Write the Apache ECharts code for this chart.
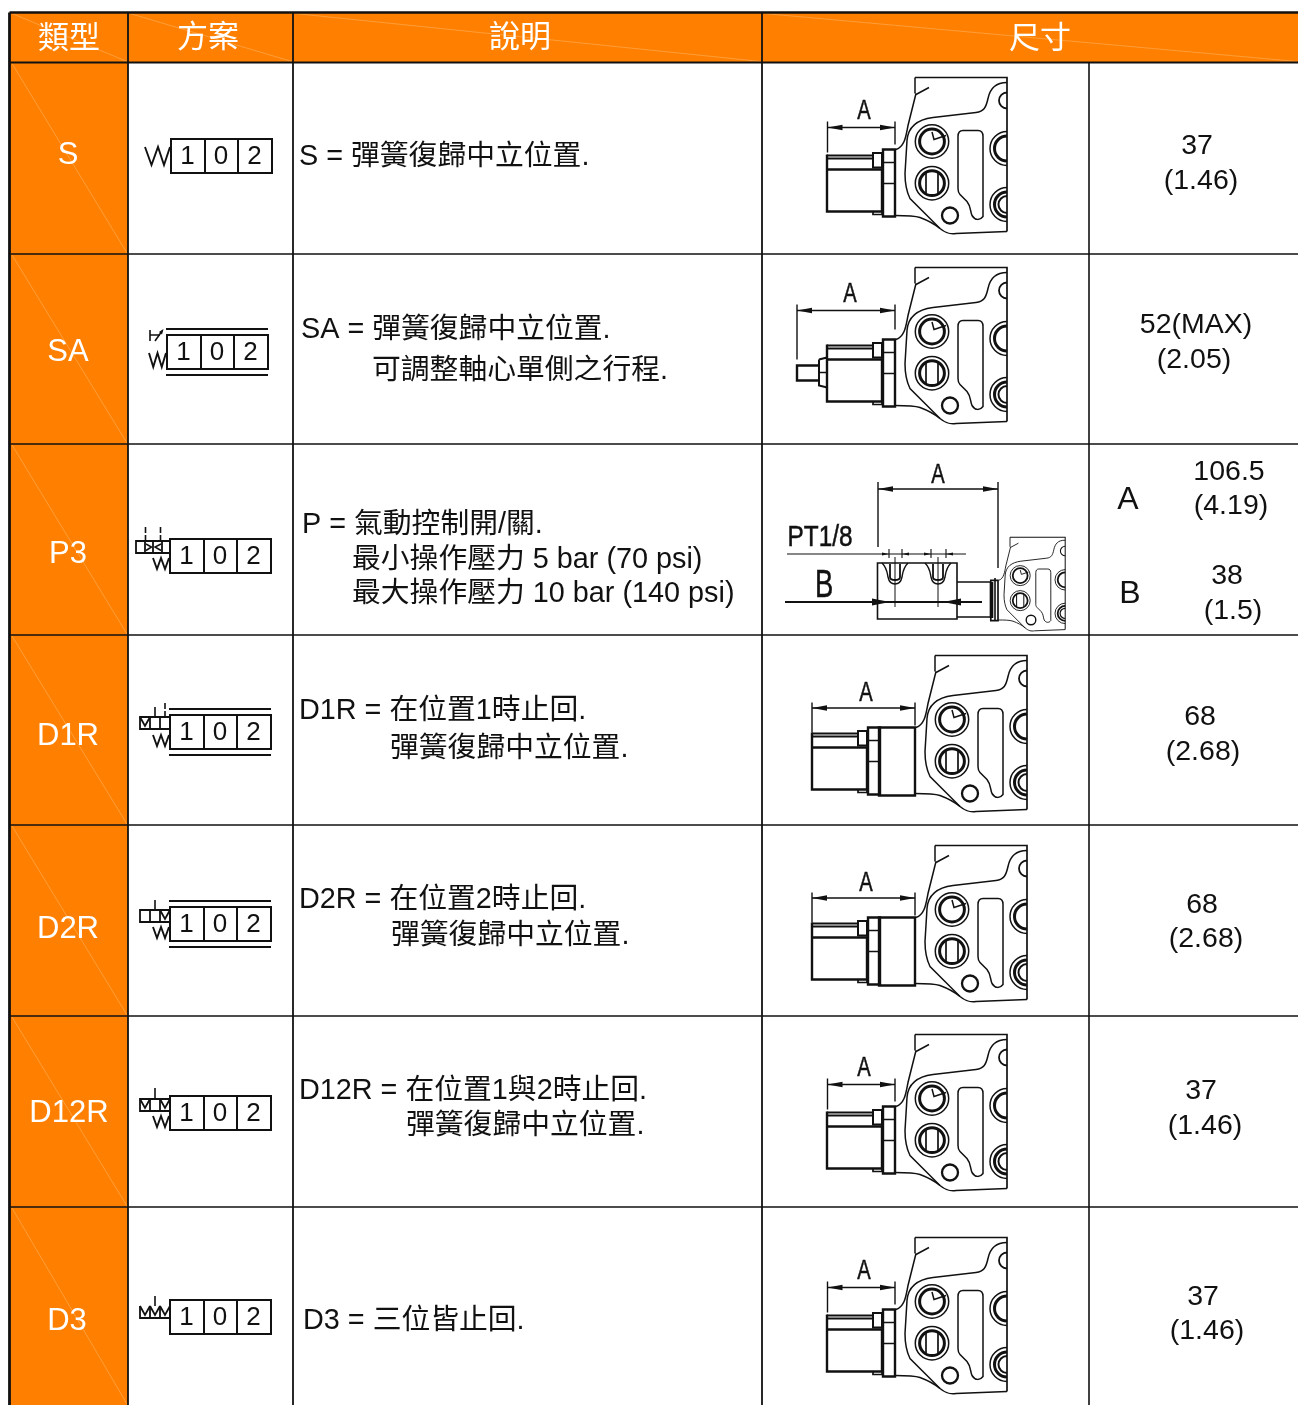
<!DOCTYPE html>
<html>
<head>
<meta charset="utf-8">
<title>類型 方案</title>
<script src="https://cdn.jsdelivr.net/npm/echarts@6/dist/echarts.min.js"></script>
<style>
  html, body { margin: 0; padding: 0; background: #fff; }
  #chart { width: 1298px; height: 1405px; }
</style>
</head>
<body>
<div id="chart"></div>
<script>
// table content
var headers = ['類型', '方案', '說明', '尺寸'];
var types = ['S', 'SA', 'P3', 'D1R', 'D2R', 'D12R', 'D3'];
var digits = ['1', '0', '2'];
var descriptions = [
  'S = 彈簧復歸中立位置.',
  'SA = 彈簧復歸中立位置.', '可調整軸心單側之行程.',
  'P = 氣動控制開/關.', '最小操作壓力 5 bar (70 psi)', '最大操作壓力 10 bar (140 psi)',
  'D1R = 在位置1時止回.', '彈簧復歸中立位置.',
  'D2R = 在位置2時止回.', '彈簧復歸中立位置.',
  'D12R = 在位置1與2時止回.', '彈簧復歸中立位置.',
  'D3 = 三位皆止回.'
];
var sizes = ['37', '(1.46)', '52(MAX)', '(2.05)', 'A', '106.5', '(4.19)', 'B', '38', '(1.5)',
  '68', '(2.68)', '68', '(2.68)', '37', '(1.46)', '37', '(1.46)'];

// layout
var colEdges = [10, 128, 293, 762, 1089, 1298];
var rowEdges = [12.5, 62.5, 254, 444, 635, 825, 1016, 1207, 1405];
var headerCenters = [[69, 39], [208, 38.5], [520, 38.5], [1040, 39]];
var typeCenters = [[68, 155], [68, 352], [68, 554], [68, 736], [68, 929], [69, 1113], [67, 1321]];
var descPos = [[299, 157.5], [301, 330.5], [372, 371.5], [302, 525.5], [352, 560.5], [352, 594],
  [299, 711.5], [390, 749.5], [299, 900.5], [391, 936.5], [299, 1091.5], [406, 1126.5], [303, 1321.5]];
var sizePos = [[1197, 146.5], [1201, 181], [1196, 325.5], [1194, 360.5], [1128, 500], [1229, 472.5], [1231, 506.5],
  [1130, 594], [1227, 576.5], [1233, 611.5], [1200, 717.5], [1203, 752.5], [1202, 905.5], [1206, 939.5],
  [1201, 1091.5], [1205, 1126.5], [1203, 1297.5], [1207, 1331.5]];
var boxPos = [[171, 139], [167, 335], [170, 539], [170, 715], [170, 907], [170, 1096], [170, 1300]];
var blockPos = [[790, 60.5, 1], [790, 250.5, 1], [935, 527, 0.6], [810, 638.5, 1], [810, 828.5, 1], [790, 1017.5, 1], [790, 1220.5, 1]];

var ORANGE = '#ff8000';
var INK = '#111';
var FONT = '"Liberation Sans", "Noto Sans CJK TC", sans-serif';

function line(d, w) {
  return { type: 'path', shape: { pathData: d }, style: { stroke: INK, fill: 'none', lineWidth: w || 1.5 }, silent: true };
}
function solid(d) {
  return { type: 'path', shape: { pathData: d }, style: { fill: INK, stroke: null }, silent: true };
}
function label(s, x, y, size, opt) {
  opt = opt || {};
  return {
    type: 'text', x: x, y: y, scaleX: opt.narrow || 1, silent: true,
    style: {
      text: s, font: size + 'px ' + FONT, fill: opt.color || '#111',
      stroke: opt.narrow ? '#111' : null, lineWidth: opt.narrow ? 0.5 : 0,
      textAlign: opt.align || 'center', textVerticalAlign: 'middle'
    }
  };
}
function circle(cx, cy, r) {
  return 'M' + (cx - r) + ' ' + cy + 'A' + r + ' ' + r + ' 0 1 0 ' + (cx + r) + ' ' + cy + 'A' + r + ' ' + r + ' 0 1 0 ' + (cx - r) + ' ' + cy + 'Z';
}
function leftHalf(cx, cy, r) {
  return 'M' + cx + ' ' + (cy - r) + 'A' + r + ' ' + r + ' 0 0 0 ' + cx + ' ' + (cy + r);
}
function arrowR(x, y, l, h) { return 'M' + x + ' ' + y + 'L' + (x - l) + ' ' + (y - h) + 'L' + (x - l) + ' ' + (y + h) + 'Z'; }
function arrowL(x, y, l, h) { return 'M' + x + ' ' + y + 'L' + (x + l) + ' ' + (y - h) + 'L' + (x + l) + ' ' + (y + h) + 'Z'; }

// dimension line with two extension lines and the narrow drawing letter
function dimension(x1, x2, y, top, leftEnd, rightEnd, letter, lx, ly) {
  return [
    line('M' + x1 + ' ' + top + 'L' + x1 + ' ' + leftEnd + 'M' + x2 + ' ' + top + 'L' + x2 + ' ' + rightEnd, 1.4),
    line('M' + x1 + ' ' + y + 'L' + x2 + ' ' + y, 1.3),
    solid(arrowL(x1, y, 15, 2.8)),
    solid(arrowR(x2, y, 15, 2.8)),
    label(letter, lx, ly, 28, { narrow: 0.72 })
  ];
}

// valve block, local coordinates, S row as the reference
function block() {
  var thin = 1.5;
  return [
    line('M125 17 L217 17 L217 171', 1.7),
    line('M125 17 L125 33 M126 34 L139 27', thin),
    line('M126 33 L118 65 C116 75 115 86 106 89', thin),
    line('M217 22 C205 22 200 28 198 38 C196 47 194 51 186 52 L143 57 C128 59 118 66 117 80 L115 113 C115 124 117 132 120 138 L150 168 C156 173 160 174 166 173 L217 171', thin),
    line('M105 155 C116 155 124 155 130 157 C138 160 144 163 150 168', thin),
    line('M168 76 C168 72 170 70 173 70 L188 70 C191 70 193 72 193 76 L193 156 C190 160 185 160 182 155 C180 150 181 146 177 141 L170 134 C168 132 168 130 168 128 Z', thin),
    // ports
    line(circle(142, 81, 16.7), thin),
    line(circle(142, 81, 12.4), 3),
    line('M142 71.5 L144 79 L156 75', thin),
    line(circle(142, 122.7, 16.7), thin),
    line(circle(142, 122.7, 12.4), 3),
    line('M136 112 L136 133 M148 112 L148 133', 1.7),
    line(circle(160, 155, 8), 2.3),
    line(leftHalf(217, 40, 8), 1.8),
    line(leftHalf(217, 88, 17), thin),
    line(leftHalf(217, 88, 12.5), 3),
    line(leftHalf(217, 144, 17), thin),
    line(leftHalf(217, 144, 12.5), 3),
    line(leftHalf(217, 144, 8.5), 2)
  ];
}

// solenoid body in front of the block; dx moves it along the axis
function actuator(dx) {
  var x = function (v) { return v + dx; };
  return [
    line('M' + x(37) + ' 95 L' + x(83) + ' 95 M' + x(37) + ' 98 L' + x(83) + ' 98', 2),
    line('M' + x(37) + ' 109 L' + x(92) + ' 109', 2.6),
    line('M' + x(37) + ' 94 L' + x(37) + ' 151 L' + x(92) + ' 151 L' + x(92) + ' 108', 2.4),
    line('M' + x(83) + ' 107 L' + x(83) + ' 92.5 L' + x(92) + ' 92.5 L' + x(92) + ' 107 Z', 2),
    line('M' + x(83) + ' 151 L' + x(83) + ' 154 L' + x(92) + ' 154 L' + x(92) + ' 151', 1.7),
    line('M' + x(93) + ' 89 L' + x(105) + ' 89 L' + x(105) + ' 156 L' + x(93) + ' 156 Z', 2.4),
    line('M' + x(93) + ' 102 L' + x(105) + ' 102 M' + x(93) + ' 123 L' + x(105) + ' 123', 1.7)
  ];
}

// one drawing per row, in block coordinates
function rowDrawing(i) {
  if (i === 0 || i === 5 || i === 6) {
    return actuator(0).concat(dimension(37.5, 105, 67, 61, 92, 84, 'A', 74, 51));
  }
  if (i === 1) {
    return actuator(0).concat([
      line('M29 109 L37 107 M29 109 L29 135 L37 137 L37 107', 2),
      line('M29 115 L7 115 L7 130 L29 130', 2.4),
      line('M29 122 L37 122', 1.5)
    ], dimension(7, 105, 60, 54, 109, 79, 'A', 60, 44));
  }
  if (i === 3 || i === 4) {
    return actuator(-35).concat([
      line('M69 89 L105 89 L105 157 L69 157 Z', 2.4)
    ], dimension(2, 105, 69.5, 64, 94, 87, 'A', 56, 54.5));
  }
  return [];
}

// pneumatic head of the P3 row, page coordinates
function pilotHead() {
  var els = dimension(878, 998, 489, 482, 547, 568, 'A', 938, 475);
  els.push(
    label('PT1/8', 820, 538, 29, { narrow: 0.84 }),
    label('B', 824, 587, 38, { narrow: 0.72 }),
    line('M787 554 L966 554', 1.1),
    line('M889 549 L889 558 M902 549 L902 558 M931 549 L931 558 M946 549 L946 558', 1.1),
    solid(arrowR(889, 554, 7, 1.5)), solid(arrowL(902, 554, 7, 1.5)),
    solid(arrowR(931, 554, 7, 1.5)), solid(arrowL(946, 554, 7, 1.5)),
    line('M877.5 563 L957 563 L957 619 L877.5 619 Z', 1.6),
    line('M957 582 L990 582 M957 617 L990 617', 1.4),
    line('M991.5 582 L991.5 618', 3.6),
    line('M995 578 L995 621', 1.6),
    line('M785 602 L982 602', 2),
    solid(arrowR(890, 602, 18, 3.4)), solid(arrowL(943, 602, 18, 3.4))
  );
  [895, 938].forEach(function (c) {
    els.push(
      line('M' + c + ' 557 L' + c + ' 607', 1),
      line('M' + (c - 13) + ' 563 C' + (c - 8) + ' 568 ' + (c - 8) + ' 572 ' + (c - 7) + ' 577 C' + (c - 6) + ' 582 ' + (c - 3) + ' 584 ' + c + ' 584 C' + (c + 3) + ' 584 ' + (c + 6) + ' 582 ' + (c + 7) + ' 577 C' + (c + 8) + ' 572 ' + (c + 8) + ' 568 ' + (c + 13) + ' 563', 1.4),
      line('M' + (c - 5) + ' 564 L' + (c - 5) + ' 577 C' + (c - 5) + ' 581 ' + (c + 5) + ' 581 ' + (c + 5) + ' 577 L' + (c + 5) + ' 564', 1.8)
    );
  });
  return els;
}

// control symbols left of the 1-0-2 box, relative to the box corner
function spring(x0, y0, y1) {
  var step = (-1 - x0) / 4;
  return line('M' + x0 + ' ' + y0 + 'L' + (x0 + step) + ' ' + y1 + 'L' + (x0 + 2 * step) + ' ' + y0 + 'L' + (x0 + 3 * step) + ' ' + y1 + 'L-1 ' + y0, 1.9);
}
function rails(top, bottom) {
  return [line('M-1 ' + top + 'L101 ' + top, 1.8), line('M-1 ' + bottom + 'L101 ' + bottom, 2.2)];
}
function detent(x, y0, y1) {
  return line('M' + x + ' ' + y0 + 'L' + (x + 5) + ' ' + (y1 - 2) + 'L' + (x + 10) + ' ' + y0, 1.8);
}
function symbol(i) {
  if (i === 0) return [line('M-26 8L-19.5 26L-13 8L-7 26L-1 8', 1.9)];
  if (i === 1) {
    return rails(-6, 40).concat([
      spring(-18, 18, 32),
      line('M-17 -5L-17 6M-17 0L-7 0', 1.6),
      line('M-12 6L-5 -4', 1.6),
      solid('M-3.5 -6L-8 -3L-5 -0.5Z')
    ]);
  }
  if (i === 2) {
    return [
      line('M-34 2H0V14H-34Z M-25 2V14 M-17 2V14 M-8 2V14', 1.8),
      line('M-24 5L-18.5 8L-24 11.5 M-9 5L-15 8L-9 11.5', 1.5),
      line('M-24.5 -12V-6 M-24.5 -4V2 M-9.5 -12V-6 M-9.5 -4V2', 1.6),
      spring(-17, 19, 30)
    ];
  }
  if (i === 3) {
    return rails(-6, 40).concat([
      line('M-30 2H0V14H-30Z M-20 2V14 M-10 2V14', 1.8),
      detent(-30, 2, 13),
      line('M-15 -8V2 M-5 -12V-6 M-5 -4V2', 1.6),
      spring(-17, 20, 31)
    ]);
  }
  if (i === 4) {
    return rails(-6, 40).concat([
      line('M-30 3H0V15H-30Z M-20 3V15 M-10 3V15', 1.8),
      detent(-10, 3, 14),
      line('M-15 -7V3', 1.6),
      spring(-17, 20, 31)
    ]);
  }
  if (i === 5) {
    return [
      line('M-30 3H0V15H-30Z M-20 3V15 M-10 3V15', 1.8),
      detent(-30, 3, 14), detent(-10, 3, 14),
      line('M-15 -8V3', 1.6),
      spring(-17, 20, 31)
    ];
  }
  return [
    line('M-30 6V18H0V6 M-20 6V18 M-10 6V18', 1.8),
    detent(-30, 6, 17), detent(-20, 6, 17), detent(-10, 6, 17),
    line('M-15 -4V6', 1.6)
  ];
}

function indexData(arr) {
  return arr.map(function (p, i) { return [p[0], p[1], i]; });
}
function layer(data, renderItem) {
  return {
    type: 'custom', coordinateSystem: 'cartesian2d', clip: false, silent: true,
    animation: false, data: data, renderItem: renderItem, encode: { x: 0, y: 1 }
  };
}
function rectShape(api, x1, y1, x2, y2) {
  var a = api.coord([x1, y1]), b = api.coord([x2, y2]);
  return { x: a[0], y: a[1], width: b[0] - a[0], height: b[1] - a[1] };
}
function diagonal(api, x1, y1, x2, y2) {
  var a = api.coord([x1, y1]), b = api.coord([x2, y2]);
  return {
    type: 'line', shape: { x1: a[0], y1: a[1], x2: b[0], y2: b[1] },
    style: { stroke: 'rgba(255,225,190,0.5)', lineWidth: 0.6 }
  };
}

var headerCols = [[0, 1], [1, 2], [2, 3], [3, 5]];
var orangeCells = headerCols.map(function (c) { return [colEdges[c[0]], rowEdges[0], colEdges[c[1]], rowEdges[1]]; });
types.forEach(function (t, i) { orangeCells.push([colEdges[0], rowEdges[i + 1], colEdges[1], rowEdges[i + 2]]); });

var gridLines = [];
rowEdges.slice(2, 8).forEach(function (y) { gridLines.push([colEdges[0], y, colEdges[5], y, 1.6]); });
gridLines.push([9.5, rowEdges[0], colEdges[5], rowEdges[0], 2.6]);
gridLines.push([9.5, rowEdges[1], colEdges[5], rowEdges[1], 2]);
gridLines.push([9.5, rowEdges[0], 9.5, 1405, 2.8]);
colEdges.slice(1, 4).forEach(function (x) { gridLines.push([x, rowEdges[0], x, 1405, 1.8]); });
gridLines.push([colEdges[4], rowEdges[1], colEdges[4], 1405, 1.6]);

var chart = echarts.init(document.getElementById('chart'));
chart.setOption({
  animation: false,
  backgroundColor: '#fff',
  grid: { left: 0, right: 0, top: 0, bottom: 0 },
  xAxis: { type: 'value', min: 0, max: 1298, show: false },
  yAxis: { type: 'value', min: 0, max: 1405, inverse: true, show: false },
  series: [
    layer(orangeCells, function (params, api) {
      var c = orangeCells[params.dataIndex];
      return {
        type: 'group', children: [
          { type: 'rect', shape: rectShape(api, c[0], c[1], c[2], c[3]), style: { fill: ORANGE } },
          diagonal(api, c[0] + 2, c[1] + 1, c[2] - 1, c[3] - 1)
        ]
      };
    }),
    layer(gridLines, function (params, api) {
      var g = gridLines[params.dataIndex];
      var a = api.coord([g[0], g[1]]), b = api.coord([g[2], g[3]]);
      return { type: 'line', shape: { x1: a[0], y1: a[1], x2: b[0], y2: b[1] }, style: { stroke: '#111', lineWidth: g[4] } };
    }),
    layer(indexData(headerCenters), function (params, api) {
      var p = api.coord([api.value(0), api.value(1)]);
      return label(headers[params.dataIndex], p[0], p[1], 31, { color: '#fff' });
    }),
    layer(indexData(typeCenters), function (params, api) {
      var p = api.coord([api.value(0), api.value(1)]);
      return label(types[params.dataIndex], p[0], p[1], 31, { color: '#fff' });
    }),
    layer(indexData(descPos), function (params, api) {
      var p = api.coord([api.value(0), api.value(1)]);
      return label(descriptions[params.dataIndex], p[0], p[1], 28.8, { align: 'left' });
    }),
    layer(indexData(sizePos), function (params, api) {
      var p = api.coord([api.value(0), api.value(1)]);
      var s = sizes[params.dataIndex];
      return label(s, p[0], p[1], (s === 'A' || s === 'B') ? 32 : 28.5);
    }),
    // 1-0-2 boxes with their control symbols
    layer(indexData(boxPos), function (params, api) {
      var p = api.coord([api.value(0), api.value(1)]);
      var kids = [line('M0 0H101V34H0Z M34 0V34 M67 0V34', 2)];
      digits.forEach(function (d, k) { kids.push(label(d, 16.5 + 33.5 * k, 18, 26)); });
      return { type: 'group', x: p[0], y: p[1], children: kids.concat(symbol(params.dataIndex)) };
    }),
    // valve drawings
    layer(indexData(blockPos), function (params, api) {
      var i = params.dataIndex;
      var p = api.coord([api.value(0), api.value(1)]);
      var s = blockPos[i][2];
      var head = { type: 'group', x: p[0], y: p[1], scaleX: s, scaleY: s, children: block() };
      if (i !== 2) {
        head.children = head.children.concat(rowDrawing(i));
        return head;
      }
      head.children = head.children.concat([line('M93 89 L105 89 L105 156 L93 156 Z', 2.8)]);
      return { type: 'group', children: [head].concat(pilotHead()) };
    })
  ]
});
</script>
</body>
</html>
